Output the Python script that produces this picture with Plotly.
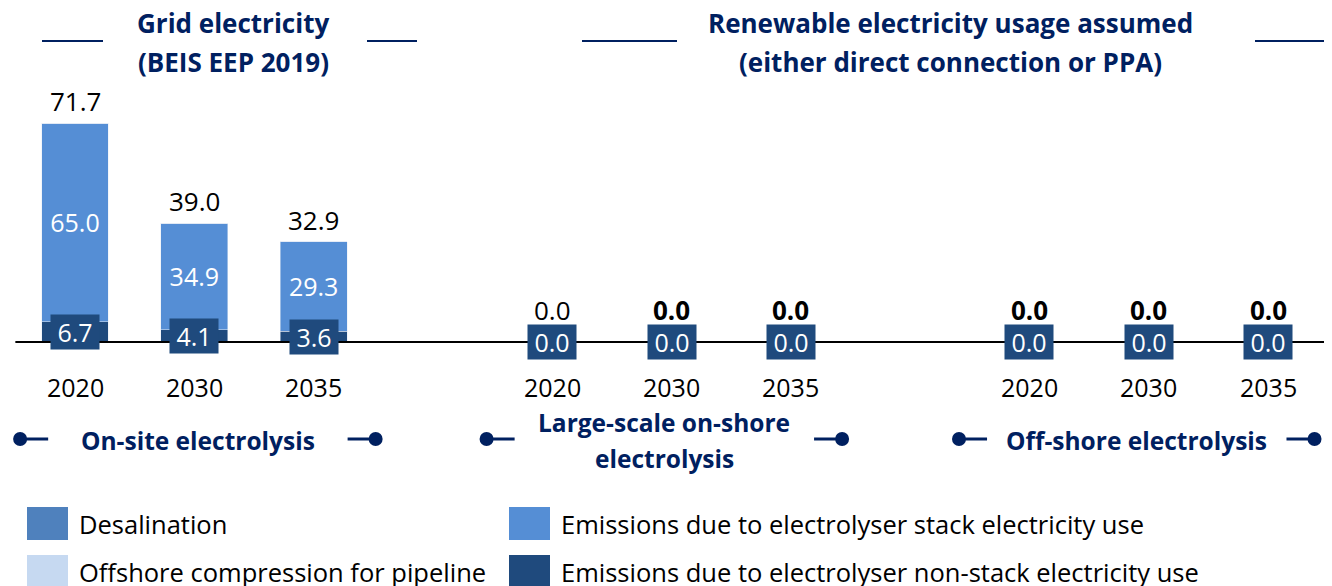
import plotly.graph_objects as go

# data
groups = ['On-site electrolysis', 'Large-scale on-shore<br>electrolysis', 'Off-shore electrolysis']
years = ['2020', '2030', '2035']
non_stack = [6.7, 4.1, 3.6, 0.0, 0.0, 0.0, 0.0, 0.0, 0.0]
stack = [65.0, 34.9, 29.3, 0.0, 0.0, 0.0, 0.0, 0.0, 0.0]
desalination = [0.0, 0.0, 0.0, 0.0, 0.0, 0.0, 0.0, 0.0, 0.0]
offshore_compression = [0.0, 0.0, 0.0, 0.0, 0.0, 0.0, 0.0, 0.0, 0.0]
total_bold = [False, False, False, False, True, True, True, True, True]
headers = ['Grid electricity<br>(BEIS EEP 2019)',
           'Renewable electricity usage assumed<br>(either direct connection or PPA)']

series_names = ['Desalination', 'Emissions due to electrolyser stack electricity use',
                'Offshore compression for pipeline', 'Emissions due to electrolyser non-stack electricity use']
series_colors = ['#4F81BD', '#558ED5', '#C6D9F1', '#1F4A7D']

NAVY = '#002060'
FONT = 'Open Sans'
OFF = 8                       # page body margin
W, H = 1332 - OFF, 586 - OFF  # figure size so the page fits the window
X0, DX = 75, 119.3            # pixel of first bar, pixels per slot
Y0, DY = 342, 3.05            # pixel of zero line, pixels per unit


def px(x):
    return (x - OFF) / W


def py(y):
    return 1 - (y - OFF) / H


def ylev(y):
    # pixel row -> data units
    return (Y0 - y) / DY


# bar positions: one slot per year, one empty slot between groups
x_pos = [g * (len(years) + 1) + i for g in range(len(groups)) for i in range(len(years))]
year_labels = [y for _ in groups for y in years]
totals = [round(a + b + c + d, 1) for a, b, c, d in zip(non_stack, stack, desalination, offshore_compression)]

fig = go.Figure()
fig.add_trace(go.Bar(x=x_pos, y=non_stack, marker_color=series_colors[3], name=series_names[3]))
fig.add_trace(go.Bar(
    x=x_pos, y=stack, marker_color=series_colors[1], name=series_names[1],
    text=[f'{v:.1f}' if v else '' for v in stack], textposition='inside', insidetextanchor='middle',
    textfont=dict(color='white', size=25, family=FONT),
))
fig.add_trace(go.Bar(x=x_pos, y=desalination, marker_color=series_colors[0], name=series_names[0]))
fig.add_trace(go.Bar(x=x_pos, y=offshore_compression, marker_color=series_colors[2], name=series_names[2]))

# totals above bars, lifted over the dark label box when the bar is short
for x, t, ns, b in zip(x_pos, totals, non_stack, total_bold):
    bar_top = t * DY
    box_top = ns / 2 * DY + 10
    txt = f'<b>{t:.1f}</b>' if b else f'{t:.1f}'
    fig.add_annotation(x=x, y=t, text=txt, showarrow=False, yanchor='bottom',
                       yshift=max(bar_top, box_top) - bar_top + 2,
                       font=dict(size=26, color='black', family=FONT))

# non-stack labels in dark boxes
for x, v in zip(x_pos, non_stack):
    fig.add_annotation(x=x, y=v / 2, text=f'{v:.1f}', showarrow=False, width=46, height=32,
                       bgcolor=series_colors[3], font=dict(size=25, color='white', family=FONT))

# year labels under the axis line
for x, y in zip(x_pos, year_labels):
    fig.add_annotation(x=x, y=0, yshift=-45, text=y, showarrow=False,
                       font=dict(size=25, color='black', family=FONT))

# axis line
fig.add_shape(type='line', x0=-0.5, x1=x_pos[-1] + 0.5, y0=0, y1=0, line=dict(color='black', width=2))

# group labels with dot connectors
group_label_x = [1.03, 4.94, 8.9]
for name, c in zip(groups, group_label_x):
    lines = name.split('<br>')
    for k, line in enumerate(lines):
        fig.add_annotation(x=c, y=ylev(440 + (k - (len(lines) - 1) / 2) * 36), text=f'<b>{line}</b>',
                           showarrow=False, font=dict(size=24.5, color=NAVY, family=FONT))
    for side in (-1, 1):
        fig.add_trace(go.Scatter(
            x=[c + side * 1.49, c + side * 1.255], y=[ylev(439)] * 2, mode='lines',
            line=dict(color=NAVY, width=3), showlegend=False, hoverinfo='skip',
        ))
        fig.add_trace(go.Scatter(
            x=[c + side * 1.49], y=[ylev(439)], mode='markers',
            marker=dict(size=14, color=NAVY, opacity=1, line=dict(width=0)),
            showlegend=False, hoverinfo='skip',
        ))

# headers with side rules
header_cx = [233, 950]
header_rules = [[(42, 103), (367, 417)], [(582, 677), (1255, 1332)]]
for cx, text, rules in zip(header_cx, headers, header_rules):
    for line, ly in zip(text.split('<br>'), (23, 62)):
        fig.add_annotation(x=px(cx), y=py(ly), xref='paper', yref='paper', text=f'<b>{line}</b>',
                           xanchor='center', yanchor='middle', showarrow=False,
                           font=dict(size=26, color=NAVY, family=FONT))
    for x0, x1 in rules:
        fig.add_shape(type='line', xref='paper', yref='paper', x0=px(x0), x1=px(x1),
                      y0=py(41), y1=py(41), line=dict(color=NAVY, width=2))

# hand-drawn legend to get the big swatches
legend_cells = [(27, 507), (509, 507), (27, 555), (509, 555)]
for (lx, ly), name, color in zip(legend_cells, series_names, series_colors):
    fig.add_shape(type='rect', xref='paper', yref='paper', x0=px(lx), x1=px(lx + 41),
                  y0=py(ly), y1=py(ly + 33), fillcolor=color, line_width=0)
    fig.add_annotation(x=px(lx + 50), y=py(ly + 17), xref='paper', yref='paper', text=name,
                       showarrow=False, xanchor='left', yanchor='middle',
                       font=dict(size=25.5, color='black', family=FONT))

fig.update_layout(
    width=W, height=H, barmode='stack', bargap=0.44, showlegend=False,
    margin=dict(l=0, r=0, t=0, b=0),
    plot_bgcolor='white', paper_bgcolor='white',
    xaxis=dict(range=[(OFF - X0) / DX, (OFF + W - X0) / DX], visible=False),
    yaxis=dict(range=[(Y0 - OFF - H) / DY, (Y0 - OFF) / DY], visible=False),
)

fig.write_html('out.html')
